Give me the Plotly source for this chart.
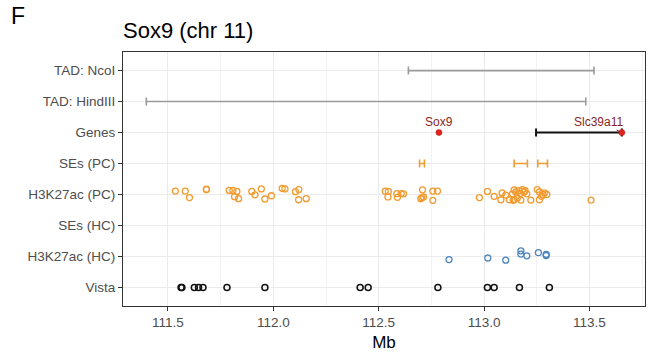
import plotly.graph_objects as go

# ---- categories (bottom -> top) ----
rows = ["Vista", "H3K27ac (HC)", "SEs (HC)", "H3K27ac (PC)", "SEs (PC)", "Genes", "TAD: HindIII", "TAD: NcoI"]
row_idx = {r: i for i, r in enumerate(rows)}

# ---- data (Mb) ----
tad_ncoi = [112.641, 113.522]
tad_hindiii = [111.397, 113.483]

gene_names = ["Sox9", "Slc39a11"]
gene_pos = [112.786, 113.654]
gene_bar = [113.247, 113.654]

se_pc_start = [112.694, 113.143, 113.255]
se_pc_end = [112.717, 113.206, 113.301]

h3k27ac_pc_x = [111.535, 111.582, 111.602, 111.682, 111.683, 111.791, 111.808, 111.827, 111.816, 111.835,
                111.898, 111.913, 111.943, 111.960, 111.991, 112.042, 112.055, 112.105, 112.121, 112.120,
                112.156, 112.531, 112.546, 112.544, 112.586, 112.589, 112.607, 112.618, 112.708, 112.700,
                112.705, 112.713, 112.757, 112.779, 112.757, 112.978, 113.016, 113.048, 113.086, 113.103,
                113.080, 113.121, 113.143, 113.151, 113.144, 113.158, 113.171, 113.182, 113.190, 113.203,
                113.175, 113.222, 113.253, 113.263, 113.279, 113.287, 113.298, 113.263, 113.273, 113.508,
                113.139, 113.165, 113.195, 113.135]
h3k27ac_pc_jit = [0.11, 0.11, -0.10, 0.16, 0.17, 0.13, 0.13, 0.10, -0.07, -0.135,
                  0.10, -0.01, 0.18, -0.145, -0.04, 0.20, 0.18, 0.09, 0.16, -0.17,
                  -0.135, 0.11, 0.10, -0.08, 0.03, -0.09, 0.03, 0.02, 0.15, -0.135,
                  -0.10, -0.08, 0.11, 0.11, -0.19, -0.10, 0.10, -0.06, 0.05, -0.02,
                  -0.17, -0.17, 0.145, 0.08, -0.16, -0.11, 0.03, 0.16, 0.08, 0.02,
                  -0.18, -0.18, 0.16, 0.08, 0.00, 0.05, 0.00, -0.17, -0.06, -0.18,
                  -0.19, 0.12, 0.12, 0.02]

h3k27ac_hc_x = [112.834, 113.018, 113.103, 113.175, 113.175, 113.203, 113.258, 113.295, 113.295]
h3k27ac_hc_jit = [-0.10, -0.05, -0.12, 0.18, 0.075, 0.02, 0.12, 0.065, 0.03]

vista_x = [111.562, 111.566, 111.625, 111.645, 111.666, 111.780, 111.960, 112.412, 112.450,
           112.781, 113.016, 113.048, 113.168, 113.310]

x_ticks = [111.5, 112.0, 112.5, 113.0, 113.5]
x_tick_labels = ["111.5", "112.0", "112.5", "113.0", "113.5"]

ORANGE = "#F29B30"
BLUE = "#4F86BD"
GREY = "#9A9A9A"
RED = "#E3241C"
DARKRED = "#8B1F1F"
FONT = "Liberation Sans"

fig = go.Figure()


def interval(starts, ends, row, color, width, cap):
    mids = [(s + e) / 2 for s, e in zip(starts, ends)]
    half = [(e - s) / 2 for s, e in zip(starts, ends)]
    fig.add_trace(go.Scatter(
        x=mids, y=[row_idx[row]] * len(mids), mode="markers",
        marker=dict(size=1, color="rgba(0,0,0,0)"),
        error_x=dict(type="data", symmetric=True, array=half, color=color,
                     thickness=width, width=cap),
        hoverinfo="skip", showlegend=False))


interval([tad_ncoi[0]], [tad_ncoi[1]], "TAD: NcoI", GREY, 1.6, 4)
interval([tad_hindiii[0]], [tad_hindiii[1]], "TAD: HindIII", GREY, 1.6, 4)
interval([gene_bar[0]], [gene_bar[1]], "Genes", "#111111", 2.0, 4)
interval(se_pc_start, se_pc_end, "SEs (PC)", ORANGE, 1.6, 4)

# gene points
fig.add_trace(go.Scatter(
    x=gene_pos, y=[row_idx["Genes"]] * len(gene_pos), mode="markers",
    marker=dict(size=6, color=RED, line=dict(width=0.5, color="#B01010")),
    hoverinfo="skip", showlegend=False))

# H3K27ac (PC)
fig.add_trace(go.Scatter(
    x=h3k27ac_pc_x, y=[row_idx["H3K27ac (PC)"] + j for j in h3k27ac_pc_jit], mode="markers",
    marker=dict(symbol="circle-open", size=6, color=ORANGE, line=dict(width=1.3)),
    hoverinfo="skip", showlegend=False))

# H3K27ac (HC)
fig.add_trace(go.Scatter(
    x=h3k27ac_hc_x, y=[row_idx["H3K27ac (HC)"] + j for j in h3k27ac_hc_jit], mode="markers",
    marker=dict(symbol="circle-open", size=6, color=BLUE, line=dict(width=1.3)),
    hoverinfo="skip", showlegend=False))

# Vista
fig.add_trace(go.Scatter(
    x=vista_x, y=[row_idx["Vista"]] * len(vista_x), mode="markers",
    marker=dict(symbol="circle-open", size=6, color="#111111", line=dict(width=1.5)),
    hoverinfo="skip", showlegend=False))

# gene labels
fig.add_annotation(x=gene_pos[0], y=row_idx["Genes"], text=gene_names[0], showarrow=False,
                   yshift=11, font=dict(family=FONT, size=12, color=DARKRED))
fig.add_annotation(x=gene_pos[1], y=row_idx["Genes"], text=gene_names[1], showarrow=True,
                   ax=-23, ay=-11, arrowhead=0, arrowwidth=1, arrowcolor=DARKRED, standoff=3,
                   font=dict(family=FONT, size=12, color=DARKRED))

# panel letter
fig.add_annotation(xref="paper", yref="paper", x=-0.218, y=1.14, xanchor="left", yanchor="middle",
                   text="F", showarrow=False, font=dict(family=FONT, size=23, color="black"))

fig.update_layout(
    width=666, height=358,
    margin=dict(l=123, r=21, t=52, b=52),
    paper_bgcolor="white", plot_bgcolor="white",
    font=dict(family=FONT, color="#4D4D4D"),
    title=dict(text="Sox9 (chr 11)", xref="paper", x=0, xanchor="left",
               yref="container", y=0.915, yanchor="middle",
               font=dict(family=FONT, size=22, color="black")),
    xaxis=dict(range=[111.2865, 113.764], tickvals=x_ticks, ticktext=x_tick_labels,
               automargin=False,
               showgrid=True, gridcolor="#EBEBEB", gridwidth=1.2,
               minor=dict(dtick=0.25, tick0=111.25, showgrid=True, gridcolor="#F2F2F2", gridwidth=0.8, ticks=""),
               ticks="outside", ticklen=4, tickcolor="#333333", tickwidth=1,
               tickfont=dict(family=FONT, size=13.5, color="#4D4D4D"),
               title=dict(text="Mb", font=dict(family=FONT, size=17, color="black"), standoff=6),
               showline=True, linecolor="#333333", linewidth=1, mirror=True, zeroline=False),
    yaxis=dict(range=[-0.6, 7.6], tickvals=list(range(len(rows))), ticktext=rows,
               automargin=False,
               showgrid=True, gridcolor="#EBEBEB", gridwidth=1.2,
               ticks="outside", ticklen=4, tickcolor="#333333", tickwidth=1,
               tickfont=dict(family=FONT, size=13.5, color="#4D4D4D"),
               showline=True, linecolor="#333333", linewidth=1, mirror=True, zeroline=False),
)

fig.write_html("out.html", config={"displayModeBar": False},
               post_script="document.body.style.margin='0px';")
